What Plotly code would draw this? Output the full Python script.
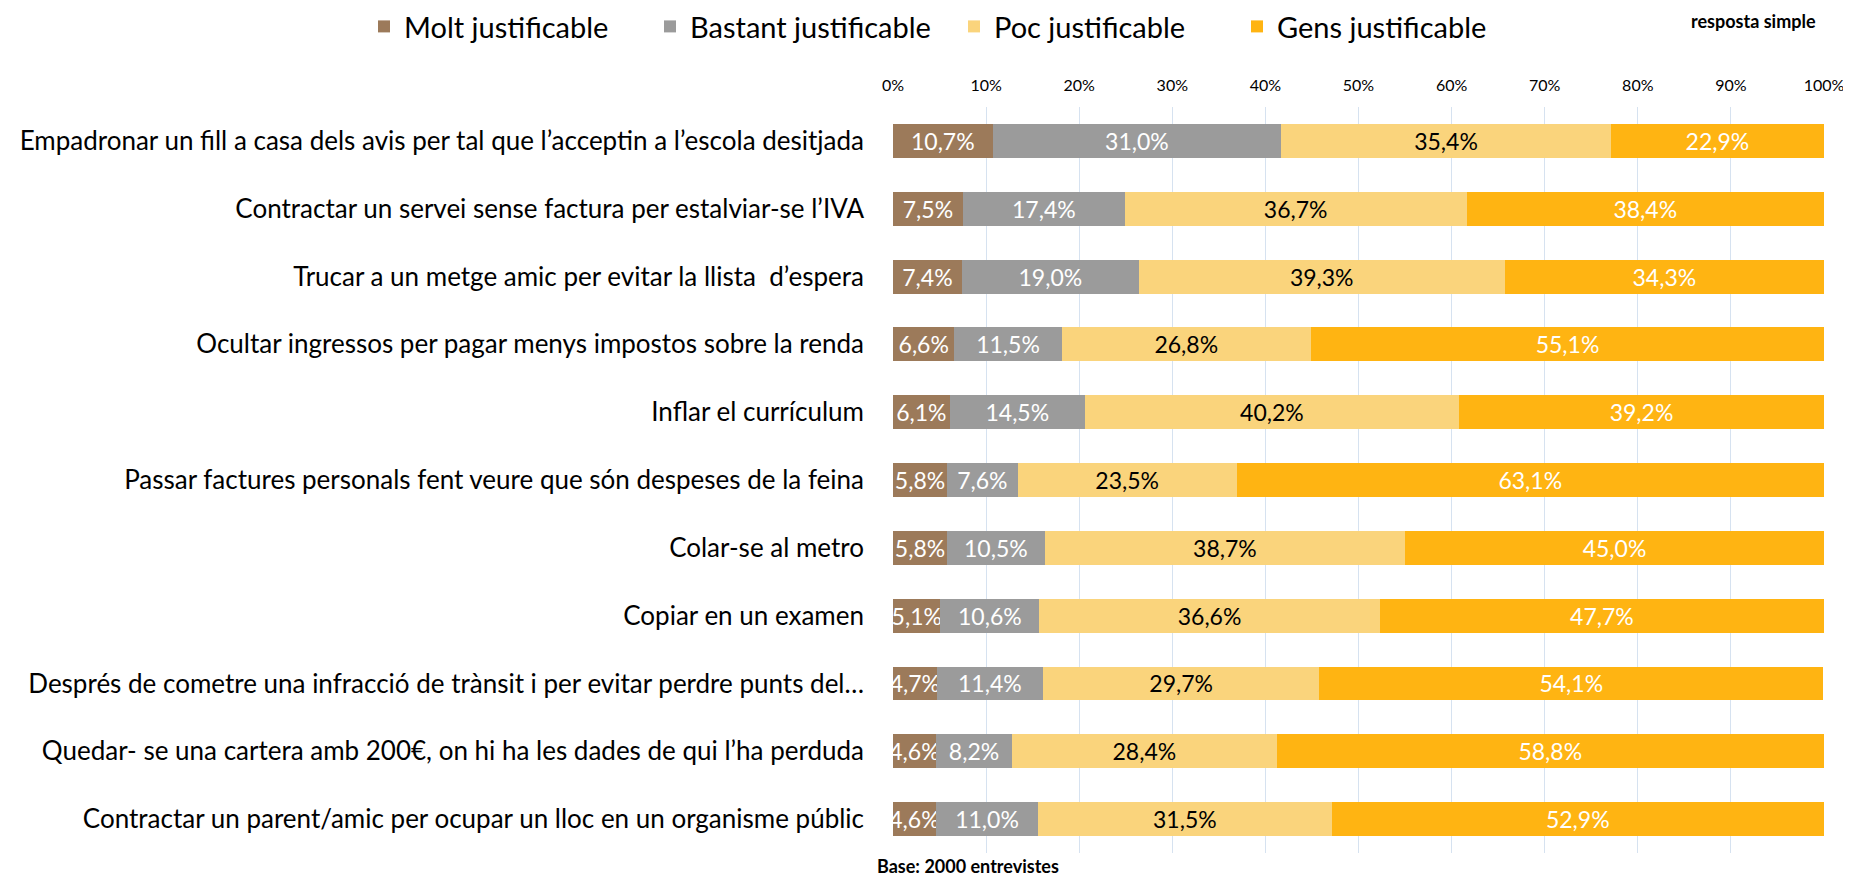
import plotly.graph_objects as go

categories = [
    "Empadronar un fill a casa dels avis per tal que l\u2019acceptin a l\u2019escola desitjada",
    "Contractar un servei sense factura per estalviar-se l\u2019IVA",
    "Trucar a un metge amic per evitar la llista  d\u2019espera",
    "Ocultar ingressos per pagar menys impostos sobre la renda",
    "Inflar el curr\u00edculum",
    "Passar factures personals fent veure que s\u00f3n despeses de la feina",
    "Colar-se al metro",
    "Copiar en un examen",
    "Despr\u00e9s de cometre una infracci\u00f3 de tr\u00e0nsit i per evitar perdre punts del\u2026",
    "Quedar- se una cartera amb 200\u20ac, on hi ha les dades de qui l\u2019ha perduda",
    "Contractar un parent/amic per ocupar un lloc en un organisme p\u00fablic",
]
molt = [10.7, 7.5, 7.4, 6.6, 6.1, 5.8, 5.8, 5.1, 4.7, 4.6, 4.6]
bastant = [31.0, 17.4, 19.0, 11.5, 14.5, 7.6, 10.5, 10.6, 11.4, 8.2, 11.0]
poc = [35.4, 36.7, 39.3, 26.8, 40.2, 23.5, 38.7, 36.6, 29.7, 28.4, 31.5]
gens = [22.9, 38.4, 34.3, 55.1, 39.2, 63.1, 45.0, 47.7, 54.1, 58.8, 52.9]
series_names = ["Molt justificable", "Bastant justificable", "Poc justificable", "Gens justificable"]
tick_vals = [0, 10, 20, 30, 40, 50, 60, 70, 80, 90, 100]
tick_text = [f"{v}%" for v in tick_vals]

colors = ["#9C7A5A", "#9B9B9B", "#FAD47C", "#FFB412"]
text_colors = ["white", "white", "black", "white"]
FONT = "Lato"

# page offset of the plot div (default body margin)
OFF = 8
W, H = 1851 - OFF, 876 - OFF
# plot area in page pixels
PX0, PX1, PY0, PY1 = 893, 1824, 106.5, 853
l, r, t, b = PX0 - OFF, W - (PX1 - OFF), PY0 - OFF, H - (PY1 - OFF)
pw, ph = W - l - r, H - t - b
def px(xp): return (xp - OFF - l) / pw
def py(yp): return (H - b - (yp - OFF)) / ph

legend_x = [364, 650, 954, 1237]

fig = go.Figure()
for i, (name, vals, col, tc) in enumerate(zip(series_names, [molt, bastant, poc, gens], colors, text_colors)):
    lg = "legend" if i == 0 else f"legend{i+1}"
    fig.add_trace(go.Bar(
        y=categories, x=vals, name=name, orientation="h",
        marker=dict(color=col, line=dict(width=0)),
        text=[f"{v:.1f}%".replace(".", ",") for v in vals],
        textposition="inside", insidetextanchor="middle",
        textfont=dict(color=tc, size=23, family=FONT),
        cliponaxis=False, legend=lg,
        hoverinfo="skip",
    ))

legend_common = dict(orientation="h", yanchor="middle", xanchor="left",
                     font=dict(size=29, family=FONT, color="black"),
                     itemwidth=30, bgcolor="rgba(0,0,0,0)")
legends = {}
for i, xp in enumerate(legend_x):
    key = "legend" if i == 0 else f"legend{i+1}"
    legends[key] = dict(legend_common, x=px(xp), y=py(26))

fig.update_layout(
    barmode="stack", bargap=0.5,
    width=W, height=H,
    margin=dict(l=l, r=r, t=t, b=b, autoexpand=False),
    plot_bgcolor="white", paper_bgcolor="white",
    font=dict(family=FONT, color="black"),
    uniformtext=dict(minsize=23, mode="show"),
    xaxis=dict(side="top", range=[0, 100], tickvals=tick_vals, ticktext=tick_text,
               showgrid=True, gridcolor="#D6E2F0", gridwidth=1, zeroline=False,
               tickfont=dict(size=16, family=FONT), ticks="", ticklabelstandoff=12),
    yaxis=dict(categoryorder="array", categoryarray=categories[::-1],
               tickfont=dict(size=26, family=FONT), ticks="", showgrid=False,
               ticklabelstandoff=28),
    showlegend=True,
    annotations=[
        dict(text="<b>resposta simple</b>", x=px(1753), y=py(20), xref="paper", yref="paper",
             xanchor="center", yanchor="middle",
             showarrow=False, font=dict(size=18, family=FONT)),
        dict(text="<b>Base: 2000 entrevistes</b>", x=px(968), y=py(866), xref="paper", yref="paper",
             xanchor="center", yanchor="middle",
             showarrow=False, font=dict(size=18, family=FONT)),
    ],
    **legends,
)

fig.write_html("out.html")
